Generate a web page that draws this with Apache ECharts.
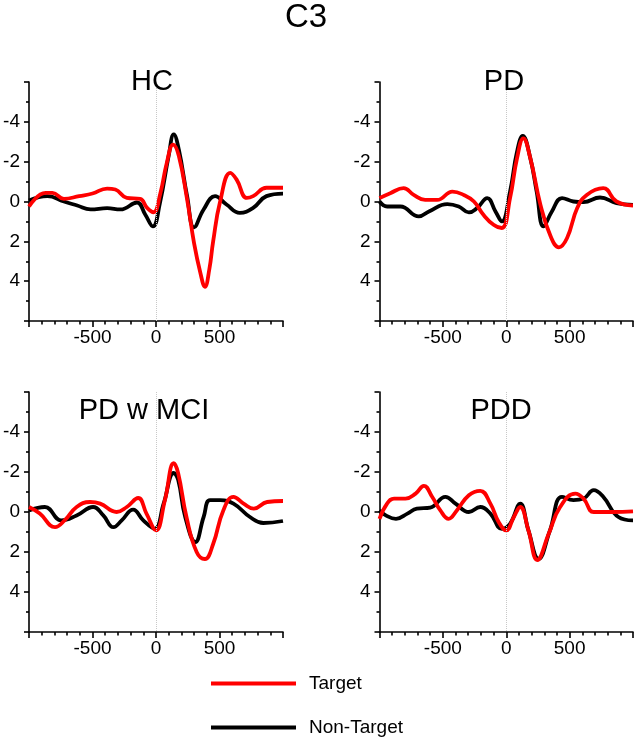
<!DOCTYPE html>
<html>
<head>
<meta charset="utf-8">
<script src="https://cdn.jsdelivr.net/npm/echarts@6/dist/echarts.min.js"></script>
<style>
html,body{margin:0;padding:0;background:#fff;}
#chart{width:636px;height:737px;}
</style>
</head>
<body>
<div id="chart"></div>
<script>
// ---- Data (time in ms, amplitude in µV; y axis is inverted) ----
const panelTitles = ['HC', 'PD', 'PD w MCI', 'PDD'];
const xTickLabels = [-500, 0, 500];
const yTickLabels = [-4, -2, 0, 2, 4];

const hcNonTargetT = [-1000,-855,-725,-620,-515,-385,-280,-150,-85,-25,30,100,140,180,245,300,375,465,555,660,765,870,1000];
const hcNonTargetV = [-0.05,-0.27,0,0.2,0.4,0.33,0.4,0.05,0.65,1.25,0.1,-2.3,-3.37,-2.6,-0.27,1.3,0.4,-0.27,0.15,0.57,0.32,-0.27,-0.4];
const hcTargetT = [-1000,-870,-815,-725,-605,-500,-385,-320,-230,-125,-70,-20,35,85,135,180,245,300,350,385,420,450,505,585,635,715,765,870,1000];
const hcTargetV = [0.25,-0.43,-0.43,-0.13,-0.27,-0.4,-0.65,-0.6,-0.18,-0.13,0.32,0.54,-0.43,-1.94,-2.86,-2.28,-0.1,2.1,3.6,4.28,3.4,2.0,0,-1.44,-1.1,-0.18,-0.27,-0.69,-0.69];

const pdNonTargetT = [-1000,-940,-835,-690,-610,-465,-375,-295,-230,-150,-85,-35,30,85,130,190,240,295,360,440,530,610,740,870,1000];
const pdNonTargetV = [0,0.25,0.25,0.75,0.5,0.13,0.25,0.55,0.33,-0.17,0.5,1.0,-0.5,-2.5,-3.3,-2.17,-0.5,1.25,0.5,-0.17,0,0.03,-0.2,0.08,0.17];
const pdTargetT = [-1000,-915,-810,-730,-640,-545,-425,-335,-255,-180,-100,-35,30,85,135,190,270,350,415,480,560,635,765,870,1000];
const pdTargetV = [-0.17,-0.42,-0.67,-0.33,-0.08,-0.08,-0.5,-0.33,0,0.67,1.17,1.33,-0.17,-2.17,-3.17,-2.17,0.17,1.75,2.3,1.83,0.33,-0.33,-0.67,0,0.2];

const mciNonTargetT = [-1000,-875,-745,-625,-495,-415,-335,-270,-180,-100,-10,60,140,175,230,310,375,425,505,610,740,845,1000];
const mciNonTargetV = [-0.08,-0.25,0.42,0.17,-0.25,0.17,0.76,0.42,-0.12,0.42,0.84,-0.42,-1.95,-1.6,0.25,1.5,0.25,-0.59,-0.59,-0.42,0.25,0.55,0.45];
const mciTargetT = [-1000,-915,-795,-720,-625,-520,-440,-310,-230,-140,-75,0,70,140,175,240,320,385,450,530,610,690,770,875,1000];
const mciTargetV = [-0.25,0.08,0.76,0.42,-0.25,-0.5,-0.42,0,-0.25,-0.7,0.08,0.92,-0.59,-2.44,-1.93,0.25,2.0,2.35,1.6,-0.08,-0.76,-0.42,-0.17,-0.5,-0.55];

const pddNonTargetT = [-1000,-950,-870,-780,-705,-600,-480,-400,-295,-205,-125,-35,30,110,175,255,345,440,530,610,690,765,885,1000];
const pddNonTargetV = [-0.08,0.17,0.34,0.08,-0.17,-0.22,-0.76,-0.42,0,-0.25,0.08,0.84,0.59,-0.42,0.92,2.35,0.92,-0.76,-0.59,-0.67,-1.09,-0.76,0.25,0.42];
const pddTargetT = [-1000,-940,-885,-795,-715,-650,-585,-520,-455,-390,-295,-205,-125,-60,0,60,110,175,245,335,425,545,610,690,845,1000];
const pddTargetV = [0.34,-0.42,-0.67,-0.67,-0.92,-1.31,-0.76,-0.08,0.34,-0.08,-0.84,-1.06,-0.42,0.5,0.92,0.25,-0.25,0.92,2.4,1.09,-0.25,-0.92,-0.67,0,0,-0.03];

const refLineX = 0;

const nonTargetSets = [[hcNonTargetT,hcNonTargetV],[pdNonTargetT,pdNonTargetV],[mciNonTargetT,mciNonTargetV],[pddNonTargetT,pddNonTargetV]];
const targetSets = [[hcTargetT,hcTargetV],[pdTargetT,pdTargetV],[mciTargetT,mciTargetV],[pddTargetT,pddTargetV]];

// ---- Layout ----
const FONT = '"Liberation Sans", Arial, Helvetica, sans-serif';
const RED = '#ff0000', BLACK = '#000000';
const grids = [
  {left: 29, top: 82, width: 254, height: 239},
  {left: 379.5, top: 82, width: 254, height: 239},
  {left: 29, top: 392, width: 254, height: 240},
  {left: 379.5, top: 392, width: 254, height: 240}
];
const titlePos = [[152, 67], [504, 67], [144, 396], [501, 396]];

function pairs(t, v) { return t.map((x, i) => [x, v[i]]); }

const xAxes = [], yAxes = [], series = [], titles = [];
titles.push({text: 'C3', left: 306, top: 1.5, textAlign: 'center', padding: 0,
  textStyle: {fontSize: 33, fontWeight: 'normal', color: '#000', fontFamily: FONT}});

grids.forEach((g, i) => {
  titles.push({text: panelTitles[i], left: titlePos[i][0], top: titlePos[i][1], textAlign: 'center', padding: 0,
    textStyle: {fontSize: 29, fontWeight: 'normal', color: '#000', fontFamily: FONT}});
  xAxes.push({
    type: 'value', gridIndex: i, min: -1000, max: 1000, interval: 500, position: 'bottom',
    axisLine: {show: true, onZero: false, lineStyle: {color: '#000', width: 1.6}},
    axisTick: {show: true, inside: false, length: 6, lineStyle: {color: '#000', width: 1.6}},
    minorTick: {show: true, splitNumber: 5, length: 3.5, lineStyle: {color: '#000', width: 1.6}},
    splitLine: {show: false}, minorSplitLine: {show: false},
    axisLabel: {show: true, margin: 7, fontSize: 19, color: '#000', fontFamily: FONT,
      showMinLabel: true, showMaxLabel: true,
      formatter: v => (xTickLabels.indexOf(v) >= 0 ? String(v) : '')}
  });
  yAxes.push({
    type: 'value', gridIndex: i, inverse: true, min: -6, max: 6, interval: 2, position: 'left',
    axisLine: {show: true, onZero: false, lineStyle: {color: '#000', width: 1.6}},
    axisTick: {show: true, inside: false, length: 5, lineStyle: {color: '#000', width: 1.6}},
    minorTick: {show: true, splitNumber: 2, length: 3, lineStyle: {color: '#000', width: 1.6}},
    splitLine: {show: false}, minorSplitLine: {show: false},
    axisLabel: {show: true, margin: 9, fontSize: 19, color: '#000', fontFamily: FONT,
      showMinLabel: true, showMaxLabel: true,
      formatter: v => (yTickLabels.indexOf(v) >= 0 ? String(v) : '')}
  });
  series.push({
    name: 'Non-Target', type: 'line', xAxisIndex: i, yAxisIndex: i,
    data: pairs(nonTargetSets[i][0], nonTargetSets[i][1]),
    smooth: 0.45, showSymbol: false, symbol: 'none', color: BLACK,
    lineStyle: {color: BLACK, width: 3.8}, itemStyle: {color: BLACK},
    z: 3, animation: false,
    markLine: {silent: true, symbol: 'none', animation: false,
      label: {show: false},
      lineStyle: {type: 'dotted', color: '#c8c8c8', width: 1},
      emphasis: {disabled: true},
      data: [{xAxis: refLineX}]}
  });
  series.push({
    name: 'Target', type: 'line', xAxisIndex: i, yAxisIndex: i,
    data: pairs(targetSets[i][0], targetSets[i][1]),
    smooth: 0.45, showSymbol: false, symbol: 'none', color: RED,
    lineStyle: {color: RED, width: 3.8}, itemStyle: {color: RED},
    z: 4, animation: false
  });
});

const legendCommon = {
  orient: 'vertical', left: 211, padding: 0, icon: 'rect',
  itemWidth: 85, itemHeight: 4, selectedMode: false,
  textStyle: {fontSize: 19, color: '#000', fontFamily: FONT, padding: [0, 0, 0, 8]}
};

const option = {
  backgroundColor: '#fff',
  animation: false,
  title: titles,
  grid: grids,
  xAxis: xAxes,
  yAxis: yAxes,
  legend: [
    Object.assign({}, legendCommon, {top: 674, data: [{name: 'Target', itemStyle: {color: RED}}]}),
    Object.assign({}, legendCommon, {top: 718, data: [{name: 'Non-Target', itemStyle: {color: BLACK}}]})
  ],
  series: series
};

const chart = echarts.init(document.getElementById('chart'), null, {renderer: 'canvas'});
chart.setOption(option);
</script>
</body>
</html>
